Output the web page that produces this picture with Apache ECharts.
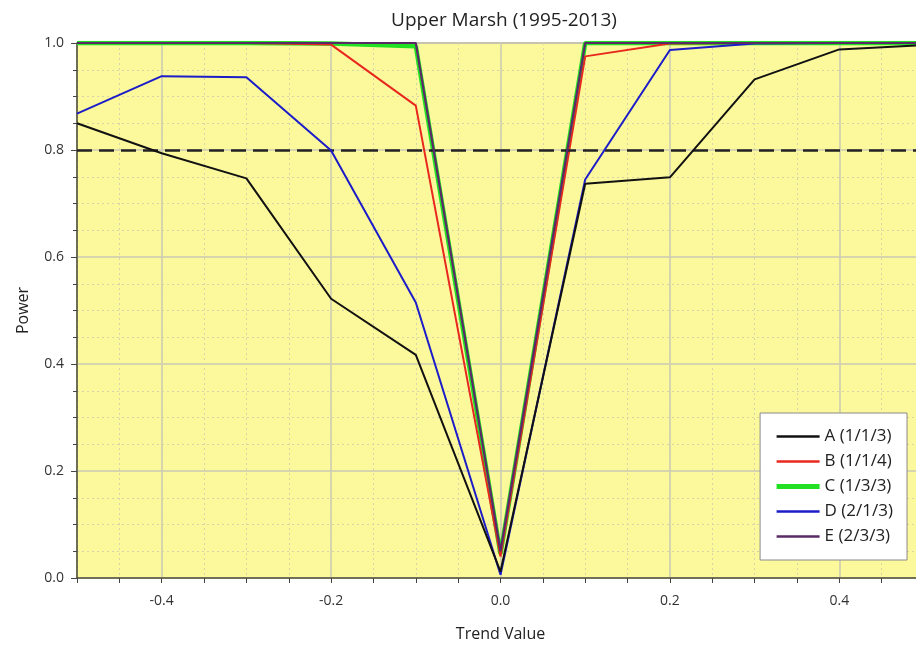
<!DOCTYPE html>
<html>
<head>
<meta charset="utf-8">
<title>Upper Marsh (1995-2013)</title>
<script src="https://cdn.jsdelivr.net/npm/echarts@6/dist/echarts.min.js"></script>
<style>
  html, body { margin: 0; padding: 0; background: #ffffff; }
  #chart { width: 916px; height: 648px; }
</style>
</head>
<body>
<div id="chart"></div>
<script>
// Trend values tested (x) and the statistical power reached by each sampling design
const trendValues = [-0.5, -0.4, -0.3, -0.2, -0.1, 0.0, 0.1, 0.2, 0.3, 0.4, 0.5];

const powerA = [0.850, 0.794, 0.747, 0.522, 0.417, 0.012, 0.737, 0.749, 0.932, 0.988, 0.996];
const powerB = [1.000, 1.000, 1.000, 0.997, 0.883, 0.040, 0.975, 0.999, 1.000, 1.000, 1.000];
const powerC = [1.000, 1.000, 1.000, 0.999, 0.994, 0.045, 1.000, 1.000, 1.000, 1.000, 1.000];
const powerD = [0.868, 0.938, 0.936, 0.799, 0.515, 0.006, 0.745, 0.987, 0.999, 1.000, 1.000];
const powerE = [1.000, 1.000, 1.000, 1.000, 1.000, 0.050, 1.000, 1.000, 1.000, 1.000, 1.000];

const seriesNames = ['A (1/1/3)', 'B (1/1/4)', 'C (1/3/3)', 'D (2/1/3)', 'E (2/3/3)'];
const targetPower = 0.8;

const yTicks = ['0.0', '0.2', '0.4', '0.6', '0.8', '1.0'];
const xTicks = ['-0.4', '-0.2', '0.0', '0.2', '0.4'];

function pairs(values) {
  return trendValues.map((x, i) => [x, values[i]]);
}

const FONT = '"Open Sans", "DejaVu Sans", sans-serif';
const chart = echarts.init(document.getElementById('chart'), null, { renderer: 'canvas' });

function lineSeries(name, values, color, width, z) {
  return {
    name: name,
    type: 'line',
    data: pairs(values),
    symbol: 'none',
    showSymbol: false,
    xAxisIndex: 0,
    yAxisIndex: 0,
    z: z,
    lineStyle: { color: color, width: width },
    itemStyle: { color: color },
    emphasis: { disabled: true }
  };
}

const series = [
  lineSeries(seriesNames[2], powerC, '#22e022', 4.5, 3),
  lineSeries(seriesNames[1], powerB, '#e8281e', 2, 4),
  lineSeries(seriesNames[3], powerD, '#1c1cc8', 2, 5),
  lineSeries(seriesNames[0], powerA, '#111111', 2, 6),
  lineSeries(seriesNames[4], powerE, '#5a2a66', 2.2, 7)
];

// dashed reference line at the target power
series[0].markLine = {
  silent: true,
  symbol: ['none', 'none'],
  label: { show: false },
  lineStyle: { color: '#222222', width: 2.5, type: [15, 7] },
  data: [{ yAxis: targetPower }]
};

const gridColor = '#cbc9b4';
const minorColor = '#d6d4a8';

// legend entries; design C is drawn with a heavier stroke
const legendData = seriesNames.map((name) => ({
  name: name,
  lineStyle: { width: name === seriesNames[2] ? 5 : 2.5 }
}));

chart.setOption({
  backgroundColor: '#ffffff',
  animation: false,
  title: {
    text: 'Upper Marsh (1995-2013)',
    left: 499,
    textAlign: 'center',
    top: 6,
    textStyle: { fontFamily: FONT, fontSize: 19, fontWeight: 'normal', color: '#222222' }
  },
  legend: {
    data: legendData,
    orient: 'vertical',
    right: 9,
    top: 413,
    padding: [15, 14, 15, 14],
    itemGap: 8,
    itemWidth: 43,
    itemHeight: 15,
    itemStyle: { opacity: 0 },
    backgroundColor: '#ffffff',
    borderColor: '#8a8a8a',
    borderWidth: 1,
    borderRadius: 0,
    textStyle: { fontFamily: FONT, fontSize: 17, color: '#222222' },
    selectedMode: false
  },
  grid: {
    left: 77,
    top: 43,
    width: 847,
    height: 535,
    outerBoundsMode: 'none',
    show: true,
    backgroundColor: '#fcf99d',
    borderColor: '#6e6e6e',
    borderWidth: 1,
    containLabel: false
  },
  xAxis: [
    {
      type: 'value',
      min: -0.5,
      max: 0.5,
      interval: 0.05,
      name: 'Trend Value',
      nameLocation: 'middle',
      nameGap: 48,
      nameTextStyle: { fontFamily: FONT, fontSize: 16, color: '#222222' },
      axisLine: { show: true, onZero: false, lineStyle: { color: '#55553a', width: 1.5 } },
      axisTick: { show: true, length: 5, lineStyle: { color: '#444444' } },
      axisLabel: {
        fontFamily: FONT, fontSize: 14, color: '#333333', margin: 16,
        formatter: function (v) {
          const label = v.toFixed(1) === '-0.0' ? '0.0' : v.toFixed(1);
          const r = Math.round(v * 100);
          return (r % 20 === 0 && xTicks.indexOf(label) >= 0) ? label : '';
        }
      },
      splitLine: {
        show: true,
        lineStyle: { color: ['transparent', 'transparent', gridColor, 'transparent'], width: 1.5 }
      }
    },
    {
      type: 'value',
      min: -0.5,
      max: 0.5,
      interval: 0.05,
      position: 'bottom',
      axisLine: { show: false },
      axisTick: { show: false },
      axisLabel: { show: false },
      splitLine: { show: true, lineStyle: { color: minorColor, width: 1, type: [2, 3] } }
    }
  ],
  yAxis: {
    type: 'value',
    min: 0,
    max: 1,
    interval: 0.2,
    name: 'Power',
    nameLocation: 'middle',
    nameGap: 46,
    nameTextStyle: { fontFamily: FONT, fontSize: 16, color: '#222222' },
    axisLine: { show: true, onZero: false, lineStyle: { color: '#55553a', width: 1.5 } },
    axisTick: { show: true, length: 6, lineStyle: { color: '#444444' } },
    minorTick: { show: true, splitNumber: 4, length: 4, lineStyle: { color: '#444444' } },
    axisLabel: {
      fontFamily: FONT, fontSize: 14, color: '#333333', margin: 13,
      formatter: function (v) { return yTicks[Math.round(v * 5)]; }
    },
    splitLine: { show: true, lineStyle: { color: gridColor, width: 1.5 } },
    minorSplitLine: { show: true, lineStyle: { color: minorColor, width: 1, type: [2, 3] } }
  },
  series: series
});
</script>
</body>
</html>
